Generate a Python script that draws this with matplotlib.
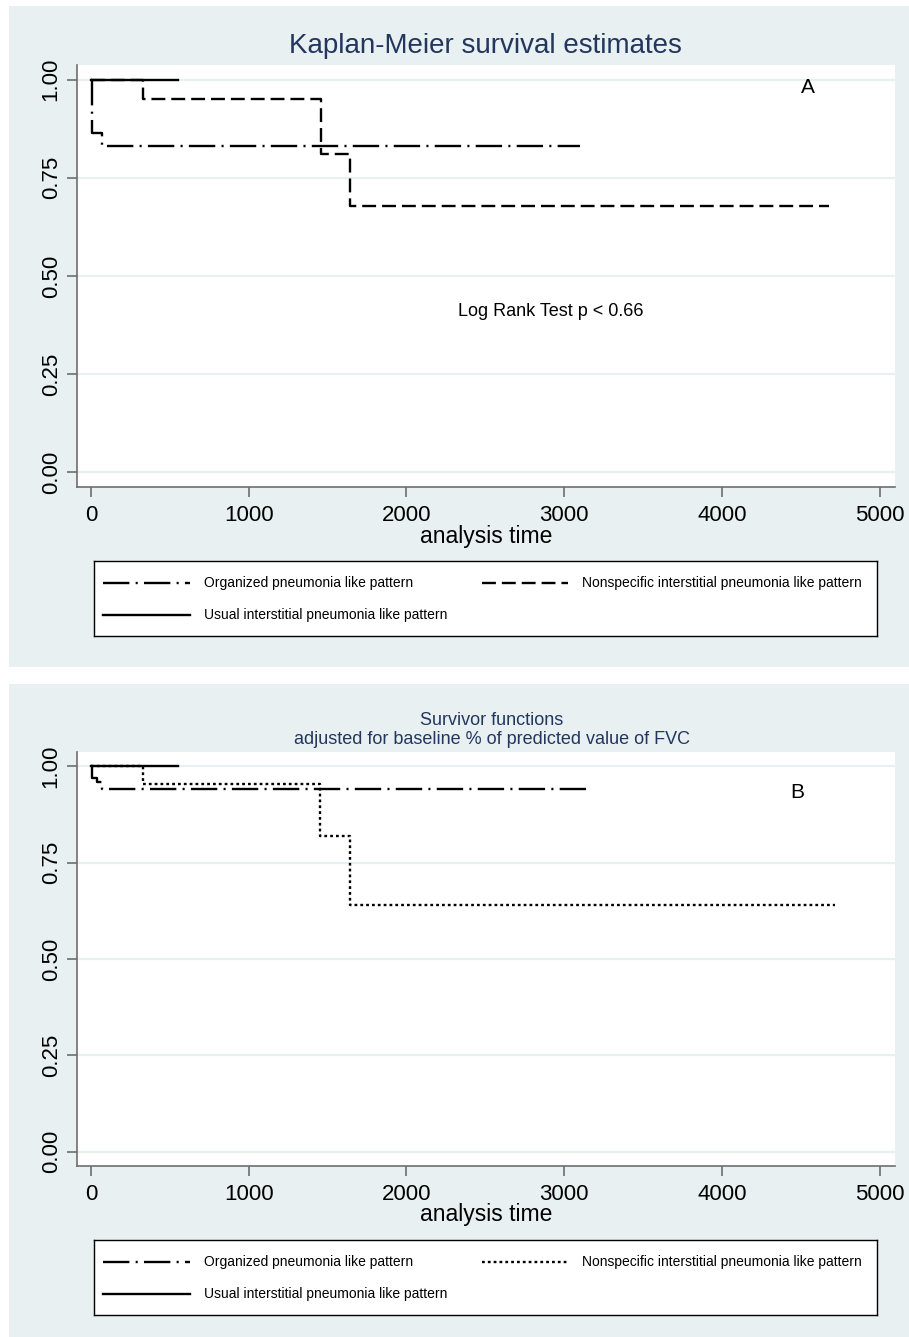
import matplotlib
matplotlib.use('Agg')
import matplotlib.pyplot as plt
from matplotlib.patches import Rectangle

plt.rcParams['font.family'] = ['Liberation Sans', 'DejaVu Sans']
plt.rcParams['lines.scale_dashes'] = False

# --- data ---
# Panel A: Kaplan-Meier
a_op_t = [0, 8, 70, 3100]
a_op_s = [1.0, 0.865, 0.83, 0.83]
a_nsip_t = [0, 330, 1460, 1640, 4680]
a_nsip_s = [1.0, 0.95, 0.81, 0.677, 0.677]
a_uip_t = [0, 550]
a_uip_s = [1.0, 1.0]

# Panel B: adjusted survivor functions
b_op_t = [0, 8, 40, 70, 3150]
b_op_s = [1.0, 0.97, 0.96, 0.94, 0.94]
b_nsip_t = [0, 330, 1455, 1640, 4720]
b_nsip_s = [1.0, 0.955, 0.82, 0.64, 0.64]
b_uip_t = [0, 550]
b_uip_s = [1.0, 1.0]

xticks = [0, 1000, 2000, 3000, 4000, 5000]
yticks = [0.0, 0.25, 0.5, 0.75, 1.0]
ytick_labels = ['0.00', '0.25', '0.50', '0.75', '1.00']
lab_op = 'Organized pneumonia like pattern'
lab_nsip = 'Nonspecific interstitial pneumonia like pattern'
lab_uip = 'Usual interstitial pneumonia like pattern'

W, H = 909, 1337
BG = '#E8F0F2'
NAVY = '#22365E'
GRAY = '#6E6E6E'
LW = 1.7
ls_op = (0, (19, 4.5, 1.5, 4.5))
ls_dash = (0, (10, 4.3))
ls_dot = (0, (2, 2.2))

fig = plt.figure(figsize=(W / 100, H / 100), dpi=100)
fig.patch.set_facecolor('white')


def px(x0, y0, x1, y1):
    # pixel box -> figure fraction rect
    return [x0 / W, 1 - y1 / H, (x1 - x0) / W, (y1 - y0) / H]


# panel backgrounds
for y0, y1 in [(6, 667), (684, 1337)]:
    fig.patches.append(Rectangle((9 / W, 1 - y1 / H), (W - 9) / W, (y1 - y0) / H,
                                 transform=fig.transFigure, facecolor=BG,
                                 edgecolor='none', zorder=-5))


def panel(top, bottom, curves, nsip_ls):
    ax = fig.add_axes(px(77, top, 895, bottom))
    ax.set_facecolor('white')
    ax.set_xlim(-89, 5098)
    ax.set_ylim(-0.037, 1.037)
    for sp in ['top', 'right']:
        ax.spines[sp].set_visible(False)
    for sp in ['left', 'bottom']:
        ax.spines[sp].set_color(GRAY)
        ax.spines[sp].set_linewidth(1.2)
    ax.set_xticks(xticks)
    ax.set_yticks(yticks)
    ax.set_yticklabels(ytick_labels, rotation=90, va='center')
    ax.tick_params(axis='both', colors=GRAY, labelcolor='black', labelsize=16,
                   length=7, width=1.2, pad=6)
    ax.tick_params(axis='y', pad=4)
    ax.grid(axis='y', color=BG, lw=1.6)
    ax.set_axisbelow(True)
    (ot, os_), (nt, ns), (ut, us) = curves
    ax.step(ot, os_, where='post', color='black', lw=LW, ls=ls_op)
    ax.step(nt, ns, where='post', color='black', lw=LW, ls=nsip_ls)
    ax.step(ut, us, where='post', color='black', lw=LW, ls='-')
    return ax


def legend_box(y0, y1, nsip_ls):
    lg = fig.add_axes(px(94, y0, 877, y1))
    lg.set_xlim(94, 877)
    lg.set_ylim(y1, y0)
    lg.set_xticks([])
    lg.set_yticks([])
    for sp in lg.spines.values():
        sp.set_color('black')
        sp.set_linewidth(1)
    r1, r2 = y0 + 22, y0 + 54
    items = [(103, 190, 204, r1, ls_op, lab_op),
             (482, 568, 582, r1, nsip_ls, lab_nsip),
             (103, 190, 204, r2, '-', lab_uip)]
    for hx0, hx1, tx, ry, ls, lab in items:
        lg.plot([hx0, hx1], [ry, ry], color='black', lw=LW, ls=ls)
        lg.text(tx, ry, lab, va='center', ha='left', fontsize=10)
    return lg


# Panel A
axA = panel(65, 487, [(a_op_t, a_op_s), (a_nsip_t, a_nsip_s), (a_uip_t, a_uip_s)], ls_dash)
axA.text(4547, 0.98, 'A', fontsize=15, ha='center', va='center')
axA.text(2917, 0.41, 'Log Rank Test p < 0.66', fontsize=13, ha='center', va='center')
fig.text(485 / W, 1 - 46 / H, 'Kaplan-Meier survival estimates', color=NAVY,
         fontsize=20, ha='center', va='center')
fig.text(486 / W, 1 - 536 / H, 'analysis time', fontsize=16.5, ha='center', va='center')
legend_box(561, 636, ls_dash)

# Panel B
axB = panel(752, 1166, [(b_op_t, b_op_s), (b_nsip_t, b_nsip_s), (b_uip_t, b_uip_s)], ls_dot)
axB.text(4477, 0.933, 'B', fontsize=15, ha='center', va='center')
fig.text(492 / W, 1 - 730 / H, 'Survivor functions\nadjusted for baseline % of predicted value of FVC',
         color=NAVY, fontsize=13, ha='center', va='center', linespacing=1.15)
fig.text(486 / W, 1 - 1214 / H, 'analysis time', fontsize=16.5, ha='center', va='center')
legend_box(1240, 1315, ls_dot)

fig.savefig('out.png', dpi=100, facecolor=fig.get_facecolor())
